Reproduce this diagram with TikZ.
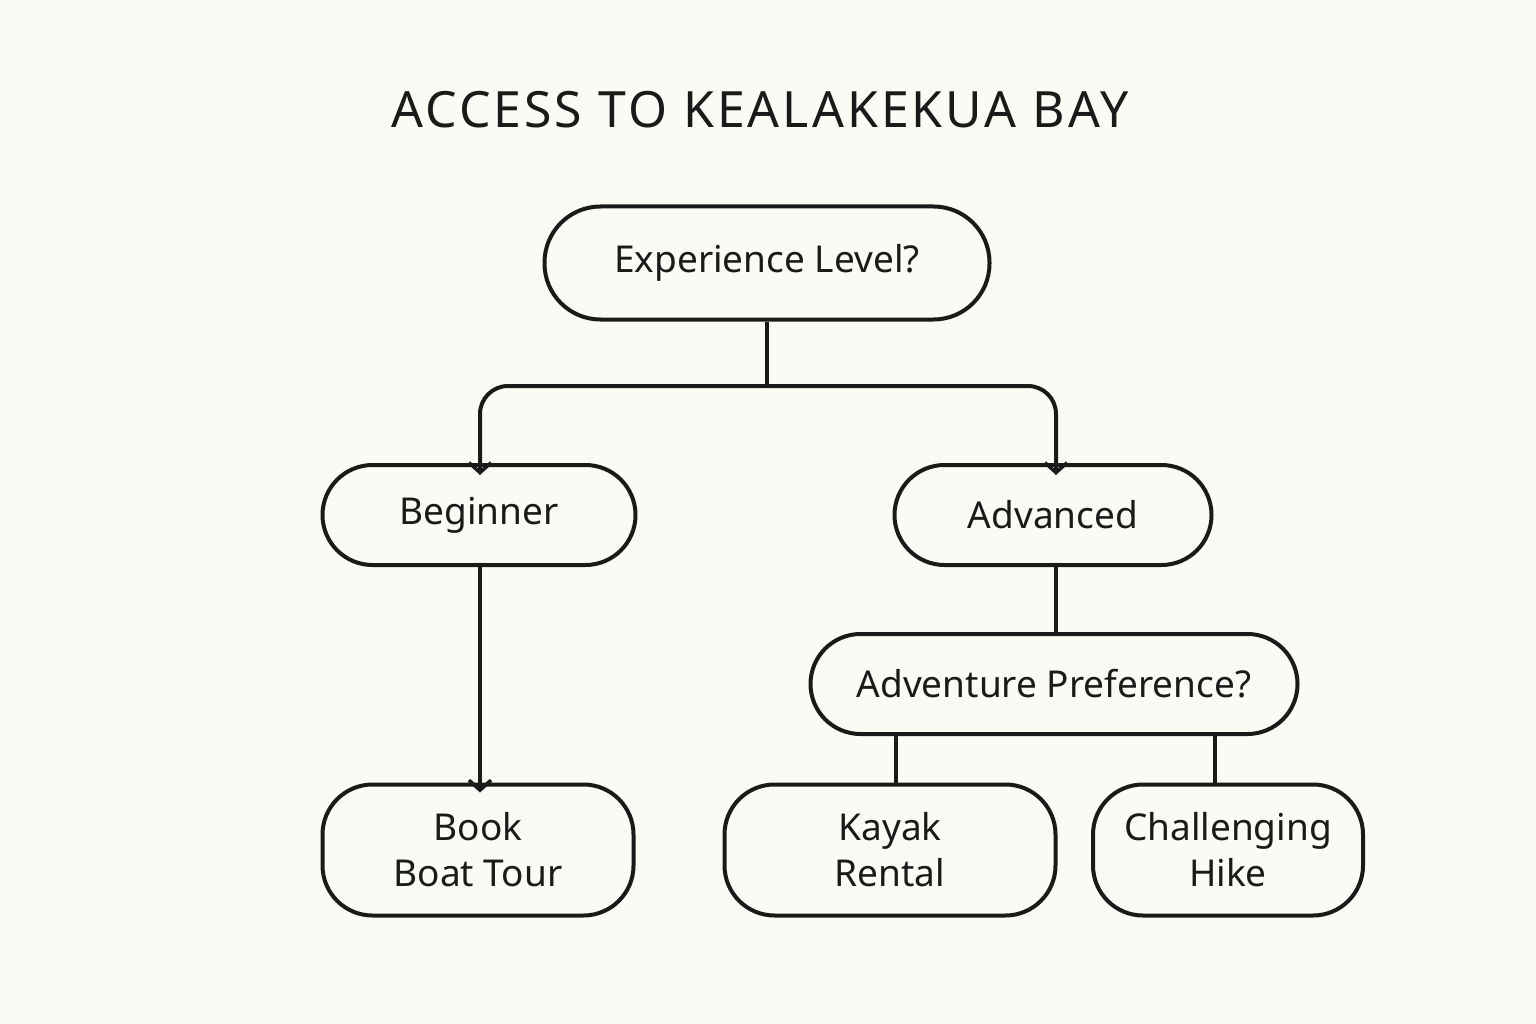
\documentclass[tikz,border=0pt]{standalone}
\usepackage{fontspec}
\setmainfont{Noto Sans}
\usetikzlibrary{arrows.meta}
\definecolor{bg}{HTML}{FBFAF5}
\definecolor{ink}{HTML}{1A1A1A}
\begin{document}
\begin{tikzpicture}[x=1pt,y=-1pt,
  pill/.style={draw=ink,line width=4pt,rounded corners=50pt,align=center,font=\fontsize{37}{46}\selectfont\color{ink},inner sep=0pt},
  conn/.style={draw=ink,line width=4pt},
  arr/.style={conn,-{Straight Barb[length=10pt,width=22pt,line width=3.5pt]}}]
\fill[bg] (0,0) rectangle (1536,1024);
\useasboundingbox (0,0) rectangle (1536,1024);
\node[font=\fontsize{50}{60}\selectfont\bfseries\color{ink}] (title) at (760,110) {\addfontfeature{LetterSpace=6}ACCESS TO KEALAKEKUA BAY};
\node[pill,minimum width=445pt,minimum height=113pt,rounded corners=56pt] (exp) at (767,263) {Experience Level?};
\node[pill,minimum width=313pt,minimum height=100pt] (beg) at (479,515) {Beginner};
\node[pill,minimum width=317pt,minimum height=100pt] (adv) at (1053,515) {Advanced};
\node[pill,minimum width=487pt,minimum height=100pt] (pref) at (1054,684) {Adventure Preference?};
\node[pill,minimum width=311pt,minimum height=131pt] (boat) at (478,850) {Book\\Boat Tour};
\node[pill,minimum width=331pt,minimum height=131pt] (kayak) at (890,850) {Kayak\\Rental};
\node[pill,minimum width=270pt,minimum height=131pt] (hike) at (1228,850) {Challenging\\Hike};
\coordinate (j) at (767,386);
\draw[conn] (exp.south) -- (j);
\draw[arr,rounded corners=28pt] (j) -- (480,386) -- ([yshift=-12pt]beg.north -| 480,0);
\draw[arr,rounded corners=28pt] (j) -- (1056,386) -- ([yshift=-12pt]adv.north -| 1056,0);
\draw[arr] (beg.south -| 480,0) -- ([yshift=-10pt]boat.north -| 480,0);
\draw[conn] (adv.south -| 1056,0) -- (pref.north -| 1056,0);
\draw[conn] (pref.south -| 896,0) -- (kayak.north -| 896,0);
\draw[conn] (pref.south -| 1215,0) -- (hike.north -| 1215,0);
\end{tikzpicture}
\end{document}
